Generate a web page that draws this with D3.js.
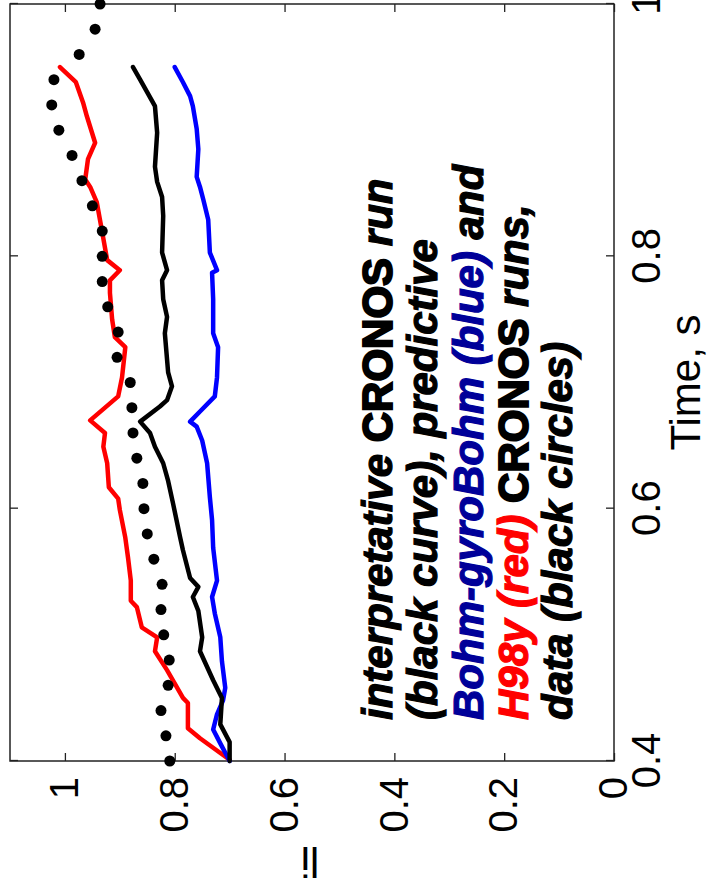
<!DOCTYPE html>
<html>
<head>
<meta charset="utf-8">
<script src="https://cdn.jsdelivr.net/npm/d3@7"></script>
<style>
  body { margin: 0; background: #fff; }
  svg { display: block; }
</style>
</head>
<body>
<svg id="chart" width="710" height="892"></svg>
<script>
// data (time in s, value li)
var timeTicks = [0.4, 0.6, 0.8, 1];
var valueTicks = [0, 0.2, 0.4, 0.6, 0.8, 1];

// measured data, black circles every 0.02 s
var dataTime = [0.40, 0.42, 0.44, 0.46, 0.48, 0.50, 0.52, 0.54, 0.56, 0.58, 0.60,
	0.62, 0.64, 0.66, 0.68, 0.70, 0.72, 0.74, 0.76, 0.78, 0.80,
	0.82, 0.84, 0.86, 0.88, 0.90, 0.92, 0.94, 0.96, 0.98, 1.00];
var dataValue = [0.809, 0.816, 0.825, 0.812, 0.810, 0.820, 0.825, 0.823, 0.838, 0.850, 0.856,
	0.858, 0.869, 0.876, 0.878, 0.881, 0.905, 0.903, 0.922, 0.932, 0.932,
	0.932, 0.950, 0.969, 0.987, 1.011, 1.024, 1.020, 0.974, 0.945, 0.936];

// interpretative CRONOS run (black curve)
var blackTime = [0.400, 0.415, 0.429, 0.450, 0.464, 0.487, 0.498, 0.519, 0.530, 0.538, 0.545,
	0.567, 0.577, 0.604, 0.622, 0.636, 0.649, 0.660, 0.669, 0.681, 0.686, 0.697, 0.708,
	0.739, 0.752, 0.766, 0.781, 0.789, 0.803, 0.832, 0.847, 0.859, 0.871, 0.898, 0.919,
	0.930, 0.940, 0.950];
var blackValue = [0.700, 0.700, 0.717, 0.714, 0.730, 0.754, 0.750, 0.757, 0.767, 0.757, 0.772,
	0.785, 0.790, 0.803, 0.812, 0.821, 0.836, 0.845, 0.863, 0.827, 0.814, 0.805, 0.812,
	0.818, 0.814, 0.821, 0.823, 0.814, 0.823, 0.821, 0.823, 0.832, 0.836, 0.832, 0.836,
	0.850, 0.863, 0.876];

// predictive Bohm-gyroBohm run (blue)
var blueTime = [0.400, 0.414, 0.425, 0.437, 0.448, 0.458, 0.479, 0.498, 0.517, 0.530, 0.543,
	0.569, 0.591, 0.609, 0.636, 0.654, 0.665, 0.669, 0.677, 0.689, 0.704, 0.728, 0.739,
	0.766, 0.787, 0.789, 0.803, 0.829, 0.845, 0.855, 0.863, 0.885, 0.901, 0.919, 0.927,
	0.938, 0.950];
var blueValue = [0.700, 0.717, 0.730, 0.723, 0.712, 0.708, 0.714, 0.717, 0.727, 0.732, 0.723,
	0.730, 0.732, 0.736, 0.741, 0.750, 0.760, 0.772, 0.754, 0.727, 0.723, 0.721, 0.730,
	0.730, 0.732, 0.723, 0.736, 0.739, 0.748, 0.754, 0.760, 0.757, 0.760, 0.767, 0.772,
	0.785, 0.800];

// predictive H98y run (red)
var redTime = [0.401, 0.418, 0.426, 0.446, 0.450, 0.472, 0.487, 0.498, 0.506, 0.522, 0.527,
	0.543, 0.561, 0.577, 0.599, 0.608, 0.617, 0.636, 0.649, 0.660, 0.670, 0.689, 0.704,
	0.728, 0.736, 0.750, 0.771, 0.781, 0.789, 0.797, 0.819, 0.843, 0.855, 0.861, 0.877,
	0.890, 0.911, 0.922, 0.938, 0.950];
var redValue = [0.700, 0.754, 0.776, 0.776, 0.785, 0.814, 0.836, 0.832, 0.860, 0.869, 0.880,
	0.880, 0.885, 0.890, 0.900, 0.903, 0.920, 0.923, 0.930, 0.927, 0.954, 0.903, 0.896,
	0.890, 0.909, 0.914, 0.918, 0.918, 0.900, 0.923, 0.932, 0.942, 0.954, 0.963, 0.958,
	0.945, 0.960, 0.967, 0.980, 1.009];

var noteLines = [
	[{t: "interpretative ", s: "italic"}, {t: "CRONOS ", s: "normal"}, {t: "run", s: "italic"}],
	[{t: "(black curve), predictive", s: "italic"}],
	[{t: "Bohm-gyroBohm (blue)", s: "italic", c: "#000099"}, {t: " and", s: "italic"}],
	[{t: "H98y (red) ", s: "italic", c: "#ff0000"}, {t: "CRONOS ", s: "normal"}, {t: "runs,", s: "italic"}],
	[{t: "data (black circles)", s: "italic"}]
];

var svg = d3.select("#chart");
var font = "'Liberation Sans', Arial, Helvetica, sans-serif";

svg.append("rect").attr("width", 710).attr("height", 892).attr("fill", "#fff");

// the whole figure is turned a quarter turn: time runs upward, li runs leftward
var W = 757, H = 604;
var g = svg.append("g").attr("transform", "translate(10,761) rotate(-90)");

var x = d3.scaleLinear().domain([0.4, 1.0]).range([0, W]);
var y = d3.scaleLinear().domain([0, 1.1]).range([H, 0]);
var fmt = d3.format("~g");

function styleAxis(sel) {
	sel.select(".domain").remove();
	sel.attr("font-size", 40).attr("font-family", font);
	sel.selectAll(".tick line").attr("stroke", "#222").attr("stroke-width", 1.3);
	sel.selectAll(".tick text").attr("fill", "#000");
}

g.append("g").attr("transform", "translate(0," + H + ")")
	.call(d3.axisBottom(x).tickValues(timeTicks).tickFormat(fmt).tickSizeInner(-8).tickSizeOuter(0).tickPadding(18))
	.call(styleAxis);
g.append("g")
	.call(d3.axisTop(x).tickValues(timeTicks).tickFormat("").tickSizeInner(-8).tickSizeOuter(0))
	.call(styleAxis);
g.append("g")
	.call(d3.axisLeft(y).tickValues(valueTicks).tickFormat(fmt).tickSizeInner(-8).tickSizeOuter(0).tickPadding(16))
	.call(styleAxis);
g.append("g").attr("transform", "translate(" + W + ",0)")
	.call(d3.axisRight(y).tickValues(valueTicks).tickFormat("").tickSizeInner(-8).tickSizeOuter(0))
	.call(styleAxis);

g.append("rect")
	.attr("width", W).attr("height", H)
	.attr("fill", "none").attr("stroke", "#222").attr("stroke-width", 1.5);

// axis titles
g.append("text")
	.attr("x", W / 2).attr("y", H + 86)
	.attr("text-anchor", "middle")
	.attr("font-family", font).attr("font-size", 42)
	.text("Time, s");
g.append("text")
	.attr("transform", "translate(-86," + (H / 2 - 2) + ") rotate(-90)")
	.attr("text-anchor", "middle")
	.attr("font-family", font).attr("font-size", 42)
	.text("li");

// curves
var line = d3.line()
	.x(function(d) { return x(d[0]); })
	.y(function(d) { return y(d[1]); });

function addCurve(ts, vs, color) {
	g.append("path")
		.datum(d3.zip(ts, vs))
		.attr("d", line)
		.attr("fill", "none")
		.attr("stroke", color)
		.attr("stroke-width", 4.5)
		.attr("stroke-linejoin", "round")
		.attr("stroke-linecap", "round");
}
addCurve(redTime, redValue, "#ff0000");
addCurve(blueTime, blueValue, "#0000ff");
addCurve(blackTime, blackValue, "#000");

g.selectAll("circle.data")
	.data(d3.zip(dataTime, dataValue))
	.enter()
	.append("circle")
	.attr("class", "data")
	.attr("cx", function(d) { return x(d[0]); })
	.attr("cy", function(d) { return y(d[1]); })
	.attr("r", 5.5)
	.attr("fill", "#000");

// annotation, drawn in page coordinates; a thin stroke makes it as heavy as the original
var baselines = [392, 437, 483, 528, 572];
noteLines.forEach(function(parts, i) {
	var t = svg.append("text")
		.attr("transform", "translate(" + baselines[i] + ",720) rotate(-90)")
		.attr("font-family", font)
		.attr("font-size", 42)
		.attr("xml:space", "preserve");
	parts.forEach(function(p) {
		t.append("tspan")
			.attr("font-weight", "bold")
			.attr("font-style", p.s)
			.attr("fill", p.c || "#000")
			.attr("stroke", p.c || "#000")
			.attr("stroke-width", p.s == "normal" ? 2 : 1.2)
			.text(p.t);
	});
});
</script>
</body>
</html>
